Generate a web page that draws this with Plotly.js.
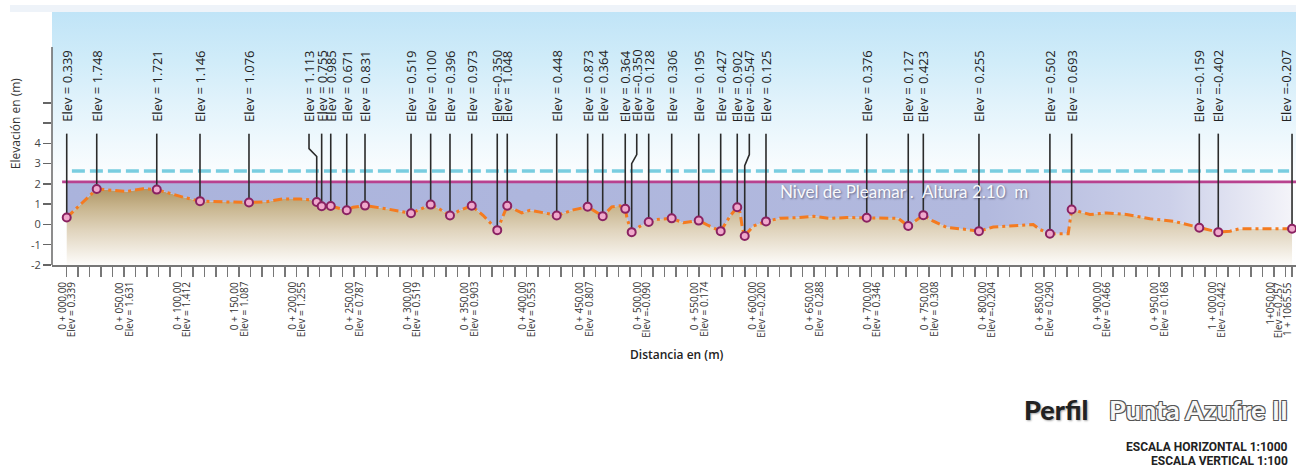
<!DOCTYPE html>
<html>
<head>
<meta charset="utf-8">
<script src="https://cdn.plot.ly/plotly-3.0.1.min.js"></script>
<style>html,body{margin:0;padding:0;background:#fff;}#chart{width:1296px;height:470px;}</style>
</head>
<body>
<div id="chart"></div>
<script>
// ---- profile (distance m, elevation m) ----
const profDist = [0,26.1,52.4,66.3,78.3,101.1,115.9,130.4,144.6,158.5,173.9,188.1,202.9,211.6,217.4,221.7,229.6,243.5,249,259.4,278.3,288,299.4,316.5,324.6,333.3,342,352.2,362,374.4,383.1,395.7,402.9,417.4,426.1,440.5,453,466.1,474,481.1,485.7,487.5,491.3,498.5,506.1,513,526.1,536.2,549.6,557.9,568.7,576.8,583.1,585.5,587.8,589.6,597,608.1,620.3,634.8,649.2,663.7,678.3,695.7,707.2,723.1,731.8,744.9,753.6,765.2,782.6,793.3,805.7,823.1,840.5,846.3,855,870.9,873,873.9,889.8,904.3,921.7,942,962.3,973.9,984.9,1001.4,1011.6,1020.3,1043.5,1065.55];
const profElev = [0.34,1.75,1.63,1.76,1.72,1.35,1.15,1.12,1.08,1.08,1.12,1.26,1.25,1.22,1.11,0.90,0.91,0.70,0.85,0.93,0.77,0.66,0.55,0.98,0.75,0.44,0.70,0.92,0.45,-0.28,0.92,0.57,0.70,0.55,0.44,0.72,0.87,0.41,0.87,0.92,0.77,0.25,-0.38,-0.09,0.12,0.25,0.30,0.08,0.19,-0.05,-0.33,0.41,0.85,0.59,-0.25,-0.57,-0.08,0.15,0.31,0.33,0.40,0.30,0.34,0.33,0.33,0.30,-0.08,0.46,0.16,-0.14,-0.25,-0.33,-0.13,-0.05,0.0,-0.25,-0.46,-0.46,0.41,0.74,0.49,0.57,0.49,0.28,0.16,0.0,-0.16,-0.38,-0.33,-0.21,-0.21,-0.21];

// ---- labelled survey points ----
const markerDist = [0,26.1,78.3,115.9,158.5,217.4,221.7,229.6,243.5,259.4,299.4,316.5,333.3,352.2,374.4,383.1,426.1,453,466.1,485.7,491.3,506.1,526.1,549.6,568.7,583.1,589.6,608.1,695.7,731.8,744.9,793.3,855,873.9,984.9,1001.4,1065.55];
const markerElev = [0.34,1.75,1.72,1.15,1.08,1.11,0.90,0.91,0.70,0.93,0.55,0.98,0.44,0.92,-0.28,0.92,0.44,0.87,0.41,0.77,-0.38,0.12,0.30,0.19,-0.33,0.85,-0.57,0.15,0.33,-0.08,0.46,-0.33,-0.46,0.74,-0.16,-0.38,-0.21];
const markerLabel = ['0.339','1.748','1.721','1.146','1.076','1.113','0.755','0.985','0.671','0.831','0.519','0.100','0.396','0.973','-0.350','1.048','0.448','0.873','0.364','0.364','-0.350','0.128','0.306','0.195','0.427','0.902','-0.547','0.125','0.376','0.127','0.423','0.255','0.502','0.693','-0.159','-0.402','-0.207'];

// ---- stations along the axis ----
const stationDist = [0,50,100,150,200,250,300,350,400,450,500,550,600,650,700,750,800,850,900,950,1000,1050,1065.55];
const stationName = ['0 + 000,00','0 + 050,00','0 + 100,00','0 + 150,00','0 + 200,00','0 + 250,00','0 + 300,00','0 + 350,00','0 + 400,00','0 + 450,00','0 + 500,00','0 + 550,00','0 + 600,00','0 + 650,00','0 + 700,00','0 + 750,00','0 + 800,00','0 + 850,00','0 + 900,00','0 + 950,00','1 + 000,00','1+050,00','1 + 1065.55'];
const stationElev = ['0.339','1.631','1.412','1.087','1.255','0.787','0.519','0.903','0.553','0.807','-0.090','0.174','-0.200','0.288','0.346','0.308','-0.204','0.290','0.466','0.168','-0.442','-0.257',''];

const pleamar = 2.10;
const dashedLevel = 2.64;

// style-only: leader bends (index -> horizontal shift of label in m)
const labelShift = {5:-6.7, 20:4.4, 26:4.0};
const bendTop = {5:3.74, 20:3.45, 26:3.45};
const bendBot = {5:3.35, 20:3.0, 26:2.9};

const XMIN=-12.8, XMAX=1069, YMIN=-2, YMAX=10.48;
const LEAD_TOP = 4.48, LABEL_Y = 4.95;

function elevTxt(v){ return v.startsWith('-') ? 'Elev =' + v : 'Elev = ' + v; }

// leaders
const lx=[], ly=[];
markerDist.forEach((d,i)=>{
  const sh = labelShift[i];
  if (sh !== undefined){
    lx.push(d+sh, d+sh, d, d, null); ly.push(LEAD_TOP, bendTop[i], bendBot[i], markerElev[i], null);
  } else {
    lx.push(d, d, null); ly.push(LEAD_TOP, markerElev[i], null);
  }
});

const traces = [
  {x:[XMIN,XMAX,XMAX,XMIN], y:[YMIN,YMIN,YMAX,YMAX], fill:'toself', mode:'lines', line:{width:0},
   fillgradient:{type:'vertical', start:YMIN, stop:YMAX, colorscale:[[0,'#ffffff'],[0.36,'#fbfdfe'],[0.5,'#eef8fd'],[0.65,'#e0f2fb'],[0.81,'#d0ecf9'],[1,'#c0e4f7']]},
   hoverinfo:'skip', showlegend:false},
  {x:[profDist[0], profDist[profDist.length-1]], y:[YMIN,YMIN], mode:'lines', line:{width:0}, hoverinfo:'skip', showlegend:false},
  {x:profDist, y:profElev, mode:'lines', line:{width:0}, fill:'tonexty',
   fillgradient:{type:'vertical', start:YMIN, stop:1.8, colorscale:[[0,'#fdfcfa'],[0.45,'#e0d4bd'],[0.75,'#c8b58e'],[1,'#ae9564']]},
   hoverinfo:'skip', showlegend:false},
  {x:[profDist[0], profDist[profDist.length-1]], y:[pleamar,pleamar], mode:'lines', line:{width:0}, fill:'tonexty',
   fillgradient:{type:'horizontal', start:0, stop:1065.55, colorscale:[[0,'#aab3dc'],[0.75,'#b2b9de'],[0.9,'#ccd0e9'],[1,'#f4f4f9']]},
   hoverinfo:'skip', showlegend:false},
  {x:[4.5,1063], y:[dashedLevel,dashedLevel], mode:'lines', line:{color:'#79cde0', width:3.5, dash:'13px,5px'}, hoverinfo:'skip', showlegend:false},
  {x:[-4,XMAX], y:[pleamar,pleamar], mode:'lines', line:{color:'#b8428f', width:2.6}, hoverinfo:'skip', showlegend:false},
  {x:profDist, y:profElev, mode:'lines', line:{color:'#f47b20', width:3, dash:'9px,4px,3px,4px'}, hoverinfo:'skip', showlegend:false},
  {x:lx, y:ly, mode:'lines', line:{color:'#2b2b2b', width:1.6}, hoverinfo:'skip', showlegend:false},
  {x:markerDist, y:markerElev, mode:'markers', marker:{size:8, color:'#f0a8cc', line:{color:'#8a2262', width:2}}, hoverinfo:'skip', showlegend:false}
];

// x ticks every 10 m
const tv=[];
for (let d=0; d<=1060; d+=10) tv.push(d);
tv.push(stationDist[stationDist.length-1]);

const ann = markerDist.map((d,i)=>({
  x: d + (labelShift[i]||0), y: LABEL_Y, xref:'x', yref:'y', text: elevTxt(markerLabel[i]),
  textangle:-90, showarrow:false, xanchor:'center', yanchor:'bottom', xshift: (i===markerDist.length-1 ? -6 : 0),
  font:{family:'Open Sans, sans-serif', size:13, color:'#222'}
}));

// station labels below the axis (name column left, elevation column right)
const SLAB_Y = -0.0593;
stationDist.forEach((d,i)=>{
  ann.push({x:d, y:SLAB_Y, xref:'x', yref:'paper', text:stationName[i], textangle:-90, showarrow:false,
            xanchor:'center', yanchor:'top', xshift:-5,
            font:{family:'Open Sans, sans-serif', size:10, color:'#333'}});
  if (stationElev[i] !== ''){
    ann.push({x:d, y:SLAB_Y, xref:'x', yref:'paper', text:elevTxt(stationElev[i]), textangle:-90, showarrow:false,
              xanchor:'center', yanchor:'top', xshift:4,
              font:{family:'Open Sans, sans-serif', size:10, color:'#333'}});
  }
});

ann.push(
  {x:728, y:1.62, xref:'x', yref:'y', text:'Nivel de Pleamar .\u00a0\u00a0Altura 2.10\u00a0 m', showarrow:false,
   xanchor:'center', yanchor:'middle',
   font:{family:'Lato, sans-serif', size:17, color:'#f9f9fb', shadow:'1px 1px 2px rgba(40,40,70,0.55)'}},
  {x:-0.0297, y:0.557, xref:'paper', yref:'paper', text:'Elevación en (m)', textangle:-90, showarrow:false,
   xanchor:'center', yanchor:'middle',
   font:{family:'Open Sans, sans-serif', size:12, color:'#333'}},
  {x:0.5024, y:-0.3557, xref:'paper', yref:'paper', text:'Distancia en (m)', showarrow:false,
   xanchor:'center', yanchor:'middle',
   font:{family:'Open Sans, sans-serif', size:12, color:'#222', weight:600}},
  {x:0.8344, y:-0.573, xref:'paper', yref:'paper', text:'Perfil', showarrow:false, xanchor:'right', yanchor:'middle',
   font:{family:'Lato, sans-serif', size:27, color:'#222', weight:900, shadow:'1px 1px 2px rgba(0,0,0,0.35)'}},
  {x:0.9952, y:-0.573, xref:'paper', yref:'paper', text:'Punta Azufre II', showarrow:false, xanchor:'right', yanchor:'middle',
   font:{family:'Lato, sans-serif', size:27, color:'#f7f7f7', weight:700, shadow:'-1px -1px 0 #555, 1px -1px 0 #555, -1px 1px 0 #555, 1px 1px 0 #555'}},
  {x:0.9952, y:-0.7194, xref:'paper', yref:'paper', text:'ESCALA HORIZONTAL 1:1000', showarrow:false, xanchor:'right', yanchor:'middle',
   font:{family:'Liberation Sans Narrow, Roboto, sans-serif', size:12, color:'#222', weight:700}},
  {x:0.9952, y:-0.7747, xref:'paper', yref:'paper', text:'ESCALA VERTICAL 1:100', showarrow:false, xanchor:'right', yanchor:'middle',
   font:{family:'Liberation Sans Narrow, Roboto, sans-serif', size:12, color:'#222', weight:700}}
);

const layout = {
  width:1296, height:470,
  margin:{l:52, r:0, t:12, b:205},
  paper_bgcolor:'#ffffff', plot_bgcolor:'rgba(0,0,0,0)',
  showlegend:false,
  xaxis:{range:[XMIN,XMAX], tickmode:'array', tickvals:tv, showticklabels:false,
         ticks:'outside', ticklen:10, tickwidth:1.5, tickcolor:'#777',
         showline:true, linecolor:'#777', linewidth:1.5, showgrid:false, zeroline:false, fixedrange:true},
  yaxis:{range:[YMIN,YMAX], tickmode:'array', tickvals:[-2,-1,0,1,2,3,4,5,6], ticktext:['-2','-1','0','1','2','3','4','',''],
         ticks:'outside', ticklen:8, tickwidth:1.5, tickcolor:'#666', showline:false, showgrid:false, zeroline:false,
         tickfont:{family:'Open Sans, sans-serif', size:11, color:'#444'}, fixedrange:true},
  shapes:[
    {type:'rect', xref:'paper', yref:'paper', x0:-0.0338, x1:1, y0:1, y1:1.0277, fillcolor:'#eef3f9', line:{width:0}, layer:'below'},
    {type:'line', xref:'paper', yref:'y', x0:0, x1:0, y0:YMIN, y1:8.75, line:{color:'#666', width:1.5}}
  ],
  annotations: ann
};

Plotly.newPlot('chart', traces, layout, {displayModeBar:false, staticPlot:true});
</script>
</body>
</html>
